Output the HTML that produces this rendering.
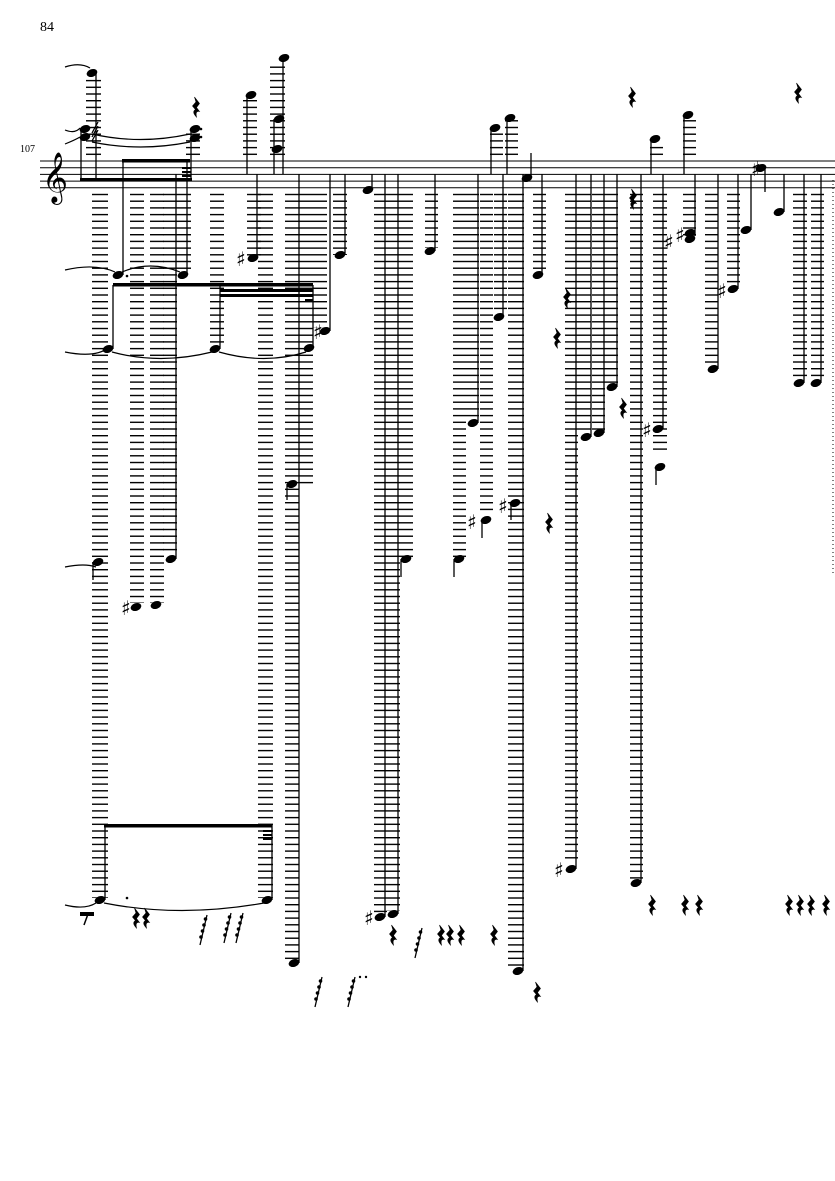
<!DOCTYPE html>
<html><head><meta charset="utf-8"><style>
html,body{margin:0;padding:0;background:#fff;}
svg{display:block;}
</style></head><body>
<svg width="835" height="1181" viewBox="0 0 835 1181" xmlns="http://www.w3.org/2000/svg">
<defs>
<pattern id="led" patternUnits="userSpaceOnUse" x="0" y="193.8" width="10" height="6.7">
<rect x="0" y="0" width="10" height="1.4" fill="#000"/>
</pattern>
<symbol id="rest" viewBox="0 0 8 20" overflow="visible">
<path d="M2.5 0 L7.5 6.5 L4.5 10.5 L7.5 14.5 Q3 13.5 4.5 20 Q-0.5 15 3.5 12.5 L0.5 9 L4 5 Z" fill="#000" stroke="#000" stroke-width="0.6"/>
</symbol>
<symbol id="r16" viewBox="0 0 10 30" overflow="visible">
<path d="M8 0 L1 30" stroke="#000" stroke-width="1.3"/>
<circle cx="6.5" cy="4" r="1.8"/><circle cx="5" cy="10" r="1.8"/><circle cx="3.5" cy="16" r="1.8"/><circle cx="2" cy="22" r="1.8"/>
</symbol>
</defs>
<rect width="835" height="1181" fill="#fff"/>
<text x="40" y="31" font-family="Liberation Serif, serif" font-size="14">84</text>
<text x="20" y="152" font-family="Liberation Serif, serif" font-size="10">107</text>
<g stroke="#000" stroke-width="1">
<line x1="40" y1="161" x2="835" y2="161"/><line x1="40" y1="167.7" x2="835" y2="167.7"/>
<line x1="40" y1="174.4" x2="835" y2="174.4"/><line x1="40" y1="181.1" x2="835" y2="181.1"/>
<line x1="40" y1="187.8" x2="835" y2="187.8"/>
</g>
<text x="42" y="192" font-family="DejaVu Sans, sans-serif" font-size="44">𝄞</text>
<line x1="833" y1="180" x2="833" y2="575" stroke="#000" stroke-width="1" stroke-dasharray="1,3"/>
<g fill="url(#led)">
<rect x="92" y="193" width="16" height="705"/>
<rect x="130" y="193" width="14" height="410"/>
<rect x="150" y="193" width="14" height="410"/>
<rect x="163" y="193" width="14" height="362"/>
<rect x="177" y="193" width="14" height="78"/>
<rect x="210" y="193" width="14" height="153"/>
<rect x="247" y="193" width="14" height="63"/>
<rect x="258" y="193" width="15" height="705"/>
<rect x="285" y="193" width="14" height="770"/>
<rect x="299" y="193" width="14" height="292"/>
<rect x="313" y="193" width="14" height="135"/>
<rect x="333" y="193" width="14" height="62"/>
<rect x="374" y="193" width="13" height="722"/>
<rect x="387" y="193" width="13" height="718"/>
<rect x="400" y="193" width="13" height="365"/>
<rect x="425" y="193" width="13" height="55"/>
<rect x="453" y="193" width="13" height="365"/>
<rect x="466" y="193" width="13" height="228"/>
<rect x="480" y="193" width="13" height="322"/>
<rect x="494" y="193" width="13" height="118"/>
<rect x="508" y="193" width="16" height="775"/>
<rect x="533" y="193" width="13" height="78"/>
<rect x="565" y="193" width="13" height="670"/>
<rect x="578" y="193" width="13" height="240"/>
<rect x="592" y="193" width="13" height="237"/>
<rect x="605" y="193" width="13" height="190"/>
<rect x="630" y="193" width="13" height="690"/>
<rect x="653" y="193" width="14" height="262"/>
<rect x="683" y="193" width="13" height="43"/>
<rect x="705" y="193" width="13" height="172"/>
<rect x="727" y="193" width="13" height="90"/>
<rect x="793" y="193" width="14" height="188"/>
<rect x="811" y="193" width="13" height="188"/>
</g>
<g fill="url(#led)">
<rect x="86" y="75" width="15" height="82"/>
<rect x="186" y="132" width="14" height="25"/>
<rect x="243" y="98" width="14" height="59"/>
<rect x="270" y="62" width="15" height="95"/>
<rect x="490" y="132" width="13" height="25"/>
<rect x="505" y="118" width="13" height="39"/>
<rect x="650" y="145" width="13" height="12"/>
<rect x="683" y="118" width="13" height="39"/>
</g>
<g fill="#000">
<ellipse cx="92" cy="73" rx="5.5" ry="3.8" transform="rotate(-20 92 73)"/>
<ellipse cx="85" cy="129" rx="5.5" ry="3.8" transform="rotate(-20 85 129)"/>
<ellipse cx="85" cy="137" rx="5.5" ry="3.8" transform="rotate(-20 85 137)"/>
<ellipse cx="195" cy="129" rx="5.5" ry="3.8" transform="rotate(-20 195 129)"/>
<ellipse cx="195" cy="138" rx="5.5" ry="3.8" transform="rotate(-20 195 138)"/>
<ellipse cx="251" cy="95" rx="5.5" ry="3.8" transform="rotate(-20 251 95)"/>
<ellipse cx="284" cy="58" rx="5.5" ry="3.8" transform="rotate(-20 284 58)"/>
<ellipse cx="279" cy="119" rx="5.5" ry="3.8" transform="rotate(-20 279 119)"/>
<ellipse cx="277" cy="149" rx="5.5" ry="3.8" transform="rotate(-20 277 149)"/>
<ellipse cx="495" cy="128" rx="5.5" ry="3.8" transform="rotate(-20 495 128)"/>
<ellipse cx="510" cy="118" rx="5.5" ry="3.8" transform="rotate(-20 510 118)"/>
<ellipse cx="655" cy="139" rx="5.5" ry="3.8" transform="rotate(-20 655 139)"/>
<ellipse cx="688" cy="115" rx="5.5" ry="3.8" transform="rotate(-20 688 115)"/>
<ellipse cx="527" cy="178" rx="5.5" ry="3.8" transform="rotate(-20 527 178)"/>
<ellipse cx="761" cy="168" rx="5.5" ry="3.8" transform="rotate(-20 761 168)"/>
<ellipse cx="368" cy="190" rx="5.5" ry="3.8" transform="rotate(-20 368 190)"/>
<ellipse cx="118" cy="275" rx="5.5" ry="3.8" transform="rotate(-20 118 275)"/>
<ellipse cx="183" cy="275" rx="5.5" ry="3.8" transform="rotate(-20 183 275)"/>
<ellipse cx="108" cy="349" rx="5.5" ry="3.8" transform="rotate(-20 108 349)"/>
<ellipse cx="215" cy="349" rx="5.5" ry="3.8" transform="rotate(-20 215 349)"/>
<ellipse cx="309" cy="348" rx="5.5" ry="3.8" transform="rotate(-20 309 348)"/>
<ellipse cx="253" cy="258" rx="5.5" ry="3.8" transform="rotate(-20 253 258)"/>
<ellipse cx="325" cy="331" rx="5.5" ry="3.8" transform="rotate(-20 325 331)"/>
<ellipse cx="340" cy="255" rx="5.5" ry="3.8" transform="rotate(-20 340 255)"/>
<ellipse cx="430" cy="251" rx="5.5" ry="3.8" transform="rotate(-20 430 251)"/>
<ellipse cx="499" cy="317" rx="5.5" ry="3.8" transform="rotate(-20 499 317)"/>
<ellipse cx="473" cy="423" rx="5.5" ry="3.8" transform="rotate(-20 473 423)"/>
<ellipse cx="486" cy="520" rx="5.5" ry="3.8" transform="rotate(-20 486 520)"/>
<ellipse cx="515" cy="503" rx="5.5" ry="3.8" transform="rotate(-20 515 503)"/>
<ellipse cx="538" cy="275" rx="5.5" ry="3.8" transform="rotate(-20 538 275)"/>
<ellipse cx="292" cy="484" rx="5.5" ry="3.8" transform="rotate(-20 292 484)"/>
<ellipse cx="98" cy="562" rx="5.5" ry="3.8" transform="rotate(-20 98 562)"/>
<ellipse cx="136" cy="607" rx="5.5" ry="3.8" transform="rotate(-20 136 607)"/>
<ellipse cx="156" cy="605" rx="5.5" ry="3.8" transform="rotate(-20 156 605)"/>
<ellipse cx="171" cy="559" rx="5.5" ry="3.8" transform="rotate(-20 171 559)"/>
<ellipse cx="406" cy="559" rx="5.5" ry="3.8" transform="rotate(-20 406 559)"/>
<ellipse cx="459" cy="559" rx="5.5" ry="3.8" transform="rotate(-20 459 559)"/>
<ellipse cx="380" cy="917" rx="5.5" ry="3.8" transform="rotate(-20 380 917)"/>
<ellipse cx="393" cy="914" rx="5.5" ry="3.8" transform="rotate(-20 393 914)"/>
<ellipse cx="294" cy="963" rx="5.5" ry="3.8" transform="rotate(-20 294 963)"/>
<ellipse cx="518" cy="971" rx="5.5" ry="3.8" transform="rotate(-20 518 971)"/>
<ellipse cx="100" cy="900" rx="5.5" ry="3.8" transform="rotate(-20 100 900)"/>
<ellipse cx="267" cy="900" rx="5.5" ry="3.8" transform="rotate(-20 267 900)"/>
<ellipse cx="571" cy="869" rx="5.5" ry="3.8" transform="rotate(-20 571 869)"/>
<ellipse cx="586" cy="437" rx="5.5" ry="3.8" transform="rotate(-20 586 437)"/>
<ellipse cx="599" cy="433" rx="5.5" ry="3.8" transform="rotate(-20 599 433)"/>
<ellipse cx="612" cy="387" rx="5.5" ry="3.8" transform="rotate(-20 612 387)"/>
<ellipse cx="636" cy="883" rx="5.5" ry="3.8" transform="rotate(-20 636 883)"/>
<ellipse cx="658" cy="429" rx="5.5" ry="3.8" transform="rotate(-20 658 429)"/>
<ellipse cx="660" cy="467" rx="5.5" ry="3.8" transform="rotate(-20 660 467)"/>
<ellipse cx="690" cy="239" rx="5.5" ry="3.8" transform="rotate(-20 690 239)"/>
<ellipse cx="690" cy="233" rx="5.5" ry="3.8" transform="rotate(-20 690 233)"/>
<ellipse cx="713" cy="369" rx="5.5" ry="3.8" transform="rotate(-20 713 369)"/>
<ellipse cx="733" cy="289" rx="5.5" ry="3.8" transform="rotate(-20 733 289)"/>
<ellipse cx="746" cy="230" rx="5.5" ry="3.8" transform="rotate(-20 746 230)"/>
<ellipse cx="779" cy="212" rx="5.5" ry="3.8" transform="rotate(-20 779 212)"/>
<ellipse cx="799" cy="383" rx="5.5" ry="3.8" transform="rotate(-20 799 383)"/>
<ellipse cx="816" cy="383" rx="5.5" ry="3.8" transform="rotate(-20 816 383)"/>
</g>
<g stroke="#000" stroke-width="1.3">
<line x1="96" y1="73" x2="96" y2="180"/><line x1="81" y1="130" x2="81" y2="180"/>
<line x1="191" y1="130" x2="191" y2="180"/><line x1="123" y1="161" x2="123" y2="275"/>
<line x1="187" y1="161" x2="187" y2="275"/>
<line x1="247" y1="95" x2="247" y2="174"/><line x1="283" y1="58" x2="283" y2="174"/><line x1="274" y1="119" x2="274" y2="174"/>
<line x1="491" y1="128" x2="491" y2="174"/><line x1="507" y1="118" x2="507" y2="174"/>
<line x1="651" y1="139" x2="651" y2="174"/><line x1="684" y1="115" x2="684" y2="174"/>
<line x1="531" y1="178" x2="531" y2="153"/><line x1="765" y1="168" x2="765" y2="192"/>
<line x1="372" y1="190" x2="372" y2="174"/>
<line x1="113" y1="285" x2="113" y2="349"/><line x1="220" y1="285" x2="220" y2="349"/><line x1="313" y1="285" x2="313" y2="348"/>
<line x1="257" y1="174" x2="257" y2="258"/><line x1="330" y1="174" x2="330" y2="331"/>
<line x1="345" y1="174" x2="345" y2="255"/><line x1="435" y1="174" x2="435" y2="251"/>
<line x1="503" y1="174" x2="503" y2="317"/><line x1="478" y1="174" x2="478" y2="423"/>
<line x1="482" y1="520" x2="482" y2="538"/><line x1="511" y1="503" x2="511" y2="520"/>
<line x1="542" y1="174" x2="542" y2="275"/><line x1="287" y1="484" x2="287" y2="500"/>
<line x1="93" y1="562" x2="93" y2="580"/><line x1="401" y1="559" x2="401" y2="577"/><line x1="454" y1="559" x2="454" y2="577"/>
<line x1="176" y1="174" x2="176" y2="559"/>
<line x1="385" y1="174" x2="385" y2="917"/><line x1="398" y1="174" x2="398" y2="914"/>
<line x1="299" y1="174" x2="299" y2="963"/><line x1="523" y1="174" x2="523" y2="971"/>
<line x1="105" y1="825" x2="105" y2="900"/><line x1="272" y1="825" x2="272" y2="900"/>
<line x1="576" y1="174" x2="576" y2="869"/><line x1="591" y1="174" x2="591" y2="437"/>
<line x1="604" y1="174" x2="604" y2="433"/><line x1="617" y1="174" x2="617" y2="387"/>
<line x1="641" y1="174" x2="641" y2="883"/><line x1="663" y1="174" x2="663" y2="429"/>
<line x1="656" y1="467" x2="656" y2="485"/><line x1="695" y1="174" x2="695" y2="236"/>
<line x1="718" y1="174" x2="718" y2="369"/><line x1="738" y1="174" x2="738" y2="289"/>
<line x1="751" y1="174" x2="751" y2="230"/><line x1="784" y1="174" x2="784" y2="212"/>
<line x1="804" y1="174" x2="804" y2="383"/><line x1="821" y1="174" x2="821" y2="383"/>
</g>
<g fill="#000">
<rect x="80" y="178" width="112" height="3.5"/>
<rect x="122" y="159" width="68" height="3.5"/>
<rect x="182" y="167" width="9" height="2"/><rect x="182" y="171" width="9" height="2"/><rect x="182" y="175" width="9" height="2"/>
<rect x="113" y="283" width="200" height="3.5"/>
<rect x="220" y="289" width="93" height="3"/><rect x="220" y="294" width="93" height="3"/>
<rect x="305" y="299" width="8" height="3"/>
<rect x="104" y="824" width="168" height="3.5"/>
<rect x="263" y="830" width="9" height="2"/><rect x="263" y="834" width="9" height="2"/><rect x="263" y="838" width="9" height="2"/>
<rect x="80" y="912" width="14" height="4"/>
<path d="M88 914 L84 925" stroke="#000" stroke-width="1.5"/>
<circle cx="201" cy="129" r="1.3"/><circle cx="201" cy="137" r="1.3"/>
<circle cx="127" cy="276" r="1.3"/><circle cx="127" cy="898" r="1.3"/>
<circle cx="360" cy="977" r="1.2"/><circle cx="366" cy="977" r="1.2"/>
</g>
<path d="M92 133 L98 122 M92 137 L98 126 M92 141 L98 130" stroke="#000" stroke-width="1.3"/>
<g fill="none" stroke="#000" stroke-width="1.2">
<path d="M65 67 Q80 62 90 68"/>
<path d="M65 130 Q75 134 80 128"/><path d="M65 144 Q75 140 80 137"/>
<path d="M92 134 Q140 145 190 134"/><path d="M92 142 Q140 152 190 142"/>
<path d="M65 270 Q95 263 115 272"/><path d="M122 272 Q150 260 180 272"/>
<path d="M65 352 Q95 358 108 348"/><path d="M112 352 Q160 365 212 352"/><path d="M219 352 Q265 365 306 352"/>
<path d="M65 567 Q85 563 96 567"/>
<path d="M65 905 Q85 910 96 903"/><path d="M104 903 Q180 918 264 903"/>
</g>
<g font-family="DejaVu Sans, sans-serif" font-size="20" fill="#000">
<text x="236" y="266">♯</text><text x="313" y="339">♯</text><text x="121" y="615">♯</text>
<text x="467" y="529">♯</text><text x="498" y="513">♯</text><text x="364" y="925">♯</text>
<text x="554" y="877">♯</text><text x="642" y="437">♯</text><text x="664" y="249">♯</text>
<text x="675" y="242">♯</text><text x="717" y="298">♯</text><text x="751" y="176">♯</text>
</g>
<g>
<use href="#rest" x="192" y="97" width="8" height="20"/>
<use href="#rest" x="628" y="87" width="8" height="20"/>
<use href="#rest" x="794" y="83" width="8" height="20"/>
<use href="#rest" x="563" y="288" width="8" height="20"/>
<use href="#rest" x="553" y="328" width="8" height="20"/>
<use href="#rest" x="619" y="398" width="8" height="20"/>
<use href="#rest" x="545" y="513" width="8" height="20"/>
<use href="#rest" x="629" y="189" width="8" height="20"/>
<use href="#rest" x="132" y="908" width="8" height="20"/>
<use href="#rest" x="142" y="908" width="8" height="20"/>
<use href="#rest" x="389" y="925" width="8" height="20"/>
<use href="#rest" x="437" y="925" width="8" height="20"/>
<use href="#rest" x="446" y="925" width="8" height="20"/>
<use href="#rest" x="457" y="925" width="8" height="20"/>
<use href="#rest" x="490" y="925" width="8" height="20"/>
<use href="#rest" x="533" y="982" width="8" height="20"/>
<use href="#rest" x="648" y="895" width="8" height="20"/>
<use href="#rest" x="681" y="895" width="8" height="20"/>
<use href="#rest" x="695" y="895" width="8" height="20"/>
<use href="#rest" x="785" y="895" width="8" height="20"/>
<use href="#rest" x="796" y="895" width="8" height="20"/>
<use href="#rest" x="807" y="895" width="8" height="20"/>
<use href="#rest" x="822" y="895" width="8" height="20"/>
<use href="#r16" x="199" y="915" width="10" height="30"/>
<use href="#r16" x="223" y="913" width="10" height="30"/>
<use href="#r16" x="235" y="913" width="10" height="30"/>
<use href="#r16" x="314" y="977" width="10" height="30"/>
<use href="#r16" x="347" y="977" width="10" height="30"/>
<use href="#r16" x="414" y="928" width="10" height="30"/>
</g>
</svg>
</body></html>
